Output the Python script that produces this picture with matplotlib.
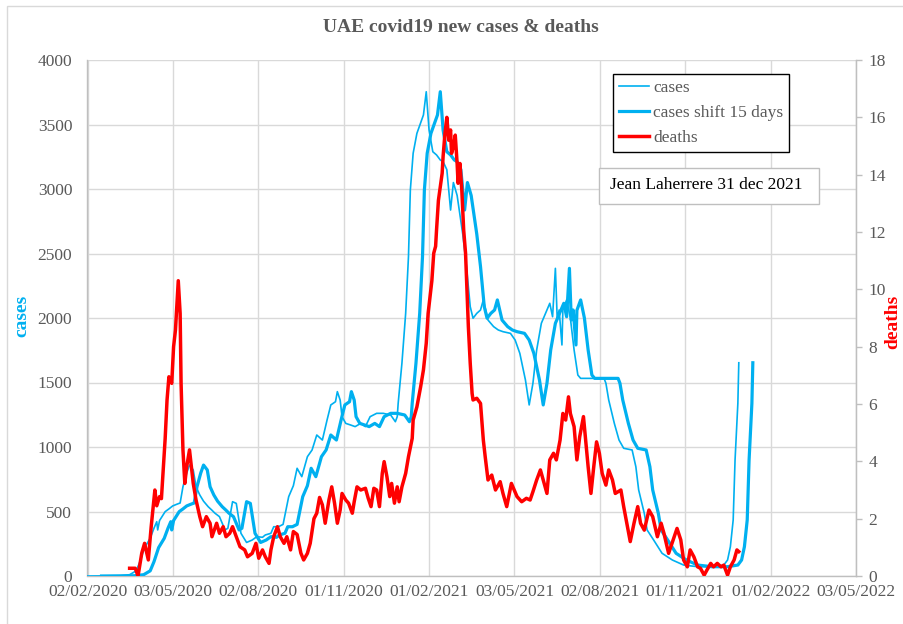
import matplotlib
matplotlib.use('Agg')
import matplotlib.pyplot as plt
import matplotlib.dates as mdates
from matplotlib.lines import Line2D
from matplotlib.patches import Rectangle
from matplotlib.ticker import FixedLocator, FuncFormatter
import pandas as pd

plt.rcParams['font.family'] = ['Liberation Serif', 'DejaVu Serif']

# ---------------- data ----------------
START = pd.Timestamp('2020-02-02')
SHIFT_DAYS = 15
X_TICK_STEP = 91.25          # days between x-axis labels
N_X_TICKS = 10

# days since 2 Feb 2020, new cases
case_day = [0, 35, 45, 52, 56, 61, 67, 71, 74, 75,
            77, 83, 87, 91, 95, 99, 102, 106, 109, 113,
            116, 120, 124, 129, 133, 136, 141, 147, 150, 155,
            159, 164, 170, 176, 181, 187, 190, 196, 199, 204,
            209, 215, 220, 224, 229, 235, 240, 245, 251, 256,
            260, 265, 267, 270, 272, 276, 281, 286, 292, 297,
            302, 309, 316, 324, 329, 331, 332, 336, 340, 343,
            345, 348, 352, 357, 359, 362, 365, 369, 373, 377,
            380, 384, 388, 391, 395, 398, 401, 405, 409, 412,
            416, 420, 423, 428, 434, 439, 444, 452, 457, 462,
            468, 472, 476, 480, 485, 491, 494, 497, 500, 502,
            504, 507, 508, 512, 516, 520, 524, 527, 538, 549,
            552, 554, 557, 563, 568, 573, 582, 586, 589, 595,
            598, 605, 614, 625, 637, 652, 669, 680, 684, 687,
            690, 692, 695, 696]
case_val = [0, 2, 10, 40, 110, 220, 292, 370, 421, 357,
            430, 499, 520, 543, 555, 566, 692, 798, 860, 822,
            692, 628, 580, 537, 510, 488, 460, 357, 370, 576,
            563, 331, 260, 279, 305, 300, 318, 331, 382, 382,
            400, 615, 700, 835, 770, 925, 977, 1093, 1054, 1209,
            1326, 1351, 1429, 1364, 1235, 1183, 1171, 1158, 1183, 1158,
            1235, 1261, 1261, 1248, 1196, 1235, 1339, 1649, 2036, 2475,
            2992, 3277, 3431, 3535, 3574, 3754, 3457, 3289, 3264, 3225,
            3212, 3150, 2837, 3050, 2950, 2800, 2650, 2398, 2088, 1998,
            2036, 2062, 2140, 1984, 1933, 1907, 1894, 1881, 1829, 1726,
            1519, 1326, 1494, 1752, 1959, 2062, 2114, 2010, 2385, 1984,
            2062, 1791, 2060, 2140, 2000, 1752, 1558, 1532, 1532, 1532,
            1532, 1494, 1364, 1183, 1054, 990, 977, 847, 667, 486,
            357, 279, 176, 124, 85, 72, 72, 85, 124, 227,
            434, 899, 1339, 1653]

# days since 2 Feb 2020, deaths
death_day = [45, 51, 54, 58, 61, 65, 68, 72, 74, 77,
             79, 83, 85, 87, 90, 92, 94, 97, 99, 100,
             102, 104, 106, 109, 111, 113, 116, 120, 123, 127,
             131, 133, 138, 141, 145, 148, 152, 155, 159, 163,
             168, 171, 176, 180, 183, 187, 190, 194, 196, 199,
             203, 206, 210, 213, 217, 220, 224, 228, 231, 235,
             238, 242, 245, 248, 251, 254, 258, 261, 264, 267,
             270, 272, 276, 279, 283, 285, 288, 292, 297, 300,
             303, 306, 309, 312, 315, 317, 320, 323, 325, 328,
             331, 333, 336, 340, 343, 347, 348, 352, 356, 359,
             362, 364, 368, 370, 372, 373, 375, 377, 379, 380,
             382, 384, 386, 388, 389, 391, 393, 395, 396, 398,
             400, 402, 404, 407, 409, 411, 412, 416, 420, 423,
             425, 428, 432, 436, 441, 444, 448, 453, 459, 464,
             469, 473, 476, 480, 484, 487, 491, 494, 498, 501,
             505, 508, 511, 514, 516, 520, 523, 526, 530, 533,
             535, 538, 541, 544, 547, 550, 554, 557, 561, 564,
             570, 573, 577, 580, 584, 588, 591, 595, 600, 604,
             609, 613, 616, 621, 627, 630, 634, 637, 641, 644,
             648, 652, 655, 659, 662, 666, 669, 673, 677, 680,
             684, 687, 691, 694, 696]
death_val = [0.27, 0.27, 0.0, 0.8, 1.14, 0.56, 1.7, 3.0, 2.45, 2.77,
             2.7, 4.8, 6.14, 6.95, 6.72, 8.0, 8.58, 10.3, 9.16, 6.72,
             4.4, 3.23, 3.81, 4.4, 3.81, 3.23, 2.65, 2.07, 1.72, 2.07,
             1.84, 1.37, 1.84, 1.49, 1.72, 1.37, 1.49, 1.72, 1.37, 1.02,
             0.91, 0.67, 0.79, 1.14, 0.62, 0.91, 0.67, 0.44, 0.91, 1.37,
             1.72, 1.37, 1.14, 1.37, 0.91, 1.55, 1.45, 0.8, 0.56, 0.79,
             1.14, 2.0, 2.19, 2.74, 2.48, 1.84, 2.65, 3.11, 2.54, 1.84,
             2.3, 2.88, 2.65, 2.54, 2.19, 2.59, 3.11, 3.0, 3.06, 2.71,
             2.42, 3.06, 3.0, 2.42, 3.58, 3.99, 3.46, 2.77, 3.23, 2.54,
             3.11, 2.59, 3.11, 3.58, 4.16, 4.8, 5.44, 5.9, 6.6, 7.19,
             8.12, 9.16, 10.3, 11.26, 11.5, 12.07, 13.1, 13.58, 14.05, 14.63,
             15.44, 16.0, 15.2, 15.56, 14.74, 14.97, 15.38, 14.39, 13.7, 14.39,
             13.46, 12.07, 11.26, 8.7, 7.42, 6.37, 6.14, 6.2, 6.02, 4.74,
             4.16, 3.35, 3.52, 3.0, 3.29, 2.88, 2.42, 3.23, 2.77, 2.59,
             2.71, 2.65, 2.94, 3.35, 3.7, 3.35, 2.88, 4.05, 4.28, 4.05,
             4.74, 5.67, 5.44, 6.25, 5.67, 5.21, 4.05, 4.86, 5.56, 4.51,
             3.81, 2.88, 3.81, 4.68, 4.28, 3.58, 3.17, 3.7, 3.35, 2.88,
             3.0, 2.42, 1.72, 1.2, 1.84, 2.42, 1.84, 1.6, 2.3, 2.07,
             1.37, 1.84, 1.49, 0.79, 1.37, 1.66, 1.26, 0.56, 0.32, 0.91,
             0.67, 0.32, 0.27, 0.03, 0.21, 0.44, 0.32, 0.44, 0.32, 0.38,
             0.03, 0.32, 0.56, 0.91, 0.85]

cases_ticks = [0, 500, 1000, 1500, 2000, 2500, 3000, 3500, 4000]
deaths_ticks = [0, 2, 4, 6, 8, 10, 12, 14, 16, 18]

title = 'UAE covid19 new cases & deaths'
labels = ['cases', 'cases shift 15 days', 'deaths']
note = 'Jean Laherrere 31 dec 2021'

# ---------------- styles ----------------
BLUE = '#00B0F0'
RED = '#FF0000'
GREY_TXT = '#595959'
GRID = '#D9D9D9'
AXIS = '#BFBFBF'

W, H = 904, 624
fig = plt.figure(figsize=(W / 100, H / 100), dpi=100)

# outer chart border
fig.add_artist(Rectangle((7 / W, -0.05), 1.2, 1 - 6 / H + 0.05, transform=fig.transFigure,
                         fill=False, ec=GRID, lw=1.0))

ax = fig.add_axes([87.5 / W, 48 / H, 768.5 / W, 516 / H])

case_dates = START + pd.to_timedelta(case_day, unit='D')
shift_dates = case_dates + pd.Timedelta(days=SHIFT_DAYS)
death_dates = START + pd.to_timedelta(death_day, unit='D')

ax.plot(case_dates, case_val, color=BLUE, lw=1.2, solid_joinstyle='round', zorder=3)
ax.plot(shift_dates, case_val, color=BLUE, lw=2.3, solid_joinstyle='round', zorder=3)

x0 = mdates.date2num(START)
xticks = [x0 + k * X_TICK_STEP for k in range(N_X_TICKS)]
ax.set_xlim(xticks[0], xticks[-1])
ax.xaxis.set_major_locator(FixedLocator(xticks))
ax.xaxis.set_major_formatter(FuncFormatter(lambda v, p: mdates.num2date(v).strftime('%d/%m/%Y')))
ax.set_ylim(0, 4000)
ax.set_yticks(cases_ticks)

ax.grid(True, color=GRID, lw=1.0, zorder=0)
ax.set_axisbelow(True)
ax.spines['top'].set_visible(False)
for s in ['left', 'bottom', 'right']:
    ax.spines[s].set_color(AXIS)
    ax.spines[s].set_linewidth(1.0)
ax.tick_params(axis='y', length=0, pad=11, labelsize=12.5, labelcolor=GREY_TXT)
ax.tick_params(axis='x', length=0, pad=6, labelsize=12.5, labelcolor=GREY_TXT)

ax2 = ax.twinx()
ax2.plot(death_dates, death_val, color=RED, lw=2.5, solid_joinstyle='round', zorder=4)
ax2.set_ylim(0, 18)
ax2.set_yticks(deaths_ticks)
ax2.set_xlim(xticks[0], xticks[-1])
for s in ['top', 'left', 'bottom']:
    ax2.spines[s].set_visible(False)
ax2.spines['right'].set_color(AXIS)
ax2.tick_params(axis='y', length=4, width=1, color=AXIS, pad=5, labelsize=12.5, labelcolor=GREY_TXT)

# titles and axis labels
fig.text(461 / W, 1 - 27 / H, title, ha='center', va='center', fontsize=14,
         fontweight='bold', color=GREY_TXT)
fig.text(22 / W, 1 - 316 / H, 'cases', rotation=90, ha='center', va='center',
         fontsize=14, fontweight='bold', color=BLUE)
fig.text(893 / W, 1 - 322 / H, 'deaths', rotation=90, ha='center', va='center',
         fontsize=14, fontweight='bold', color=RED)

# legend
handles = [Line2D([], [], color=BLUE, lw=1.2),
           Line2D([], [], color=BLUE, lw=2.3),
           Line2D([], [], color=RED, lw=2.5)]
leg = ax2.legend(handles, labels, loc='upper left', bbox_to_anchor=(613 / W, 1 - 74 / H),
                 bbox_transform=fig.transFigure, borderaxespad=0, fancybox=False,
                 framealpha=1, edgecolor='black', fontsize=12.5, handlelength=1.7,
                 handletextpad=0.25, borderpad=0.35, labelspacing=0.5)
leg.get_frame().set_linewidth(1.0)
for t in leg.get_texts():
    t.set_color(GREY_TXT)

# author note box
fig.add_artist(Rectangle((599 / W, 1 - 204 / H), 220 / W, 36 / H, transform=fig.transFigure,
                         fc='white', ec=AXIS, lw=1.0, zorder=5))
fig.text(610 / W, 1 - 185 / H, note, ha='left', va='center', fontsize=12.5,
         color='black', zorder=6)

fig.savefig('out.png', dpi=100)
